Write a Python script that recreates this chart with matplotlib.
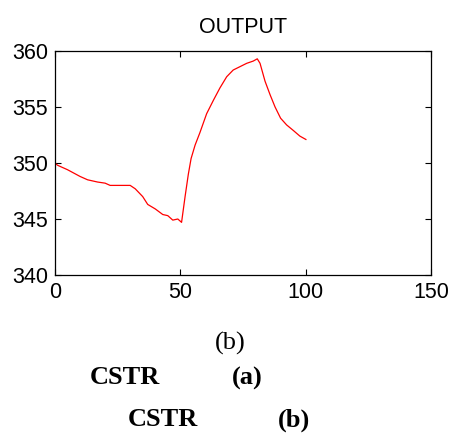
import matplotlib.pyplot as plt
import numpy as np

# OUTPUT curve
t = [0, 1, 5, 10, 13, 17, 20, 22, 25, 30, 32, 35, 37, 40, 43, 45, 47, 49, 50.5,
     51.9, 53.2, 54.3, 55.9, 57.8, 60.5, 63.2, 65.8, 68.5, 71.1, 73.8, 76.5, 79.1, 80.7,
     81.8, 83.8, 85.8, 87.8, 90.0, 92.4, 95.1, 97.7, 100.1]
out = [350.0, 349.8, 349.4, 348.8, 348.5, 348.3, 348.2, 348.0, 348.0, 348.0, 347.7,
       347.0, 346.3, 345.9, 345.4, 345.3, 344.9, 345.0, 344.7,
       347.0, 349.0, 350.4, 351.6, 352.7, 354.4, 355.6, 356.7, 357.7, 358.3, 358.6,
       358.9, 359.1, 359.3, 358.9, 357.3, 356.1, 355.0, 354.0, 353.4, 352.9, 352.4, 352.1]

xticks = [0, 50, 100, 150]
yticks = [340, 345, 350, 355, 360]

fig = plt.figure(figsize=(4.54, 4.41), dpi=100)
ax = fig.add_axes([0.1211, 0.3764, 0.8282, 0.508])
ax.plot(t, out, color='red', lw=0.9)
ax.set_xlim(0, 150)
ax.set_ylim(340, 360)
ax.set_xticks(xticks)
ax.set_yticks(yticks)
ax.tick_params(direction='in', top=True, right=True, length=4, width=0.8,
               labelsize=15.5, pad=5)
for lab in ax.get_xticklabels() + ax.get_yticklabels():
    lab.set_family('Liberation Sans')
for s in ax.spines.values():
    s.set_linewidth(0.9)
ax.set_title('OUTPUT', fontsize=15.5, family='Liberation Sans', pad=13)

# caption lines below the chart
fig.text(0.507, 1 - 343 / 441, '(b)', family='Liberation Serif', fontsize=19,
         ha='center', va='center')
fig.text(0.198, 1 - 378 / 441, 'CSTR', family='Liberation Serif', fontsize=19,
         weight='bold', ha='left', va='center')
fig.text(0.511, 1 - 378 / 441, '(a)', family='Liberation Serif', fontsize=19,
         weight='bold', ha='left', va='center')
fig.text(0.282, 1 - 420 / 441, 'CSTR', family='Liberation Serif', fontsize=19,
         weight='bold', ha='left', va='center')
fig.text(0.612, 1 - 420 / 441, '(b)', family='Liberation Serif', fontsize=19,
         weight='bold', ha='left', va='center')

fig.savefig('out.png', dpi=100)
